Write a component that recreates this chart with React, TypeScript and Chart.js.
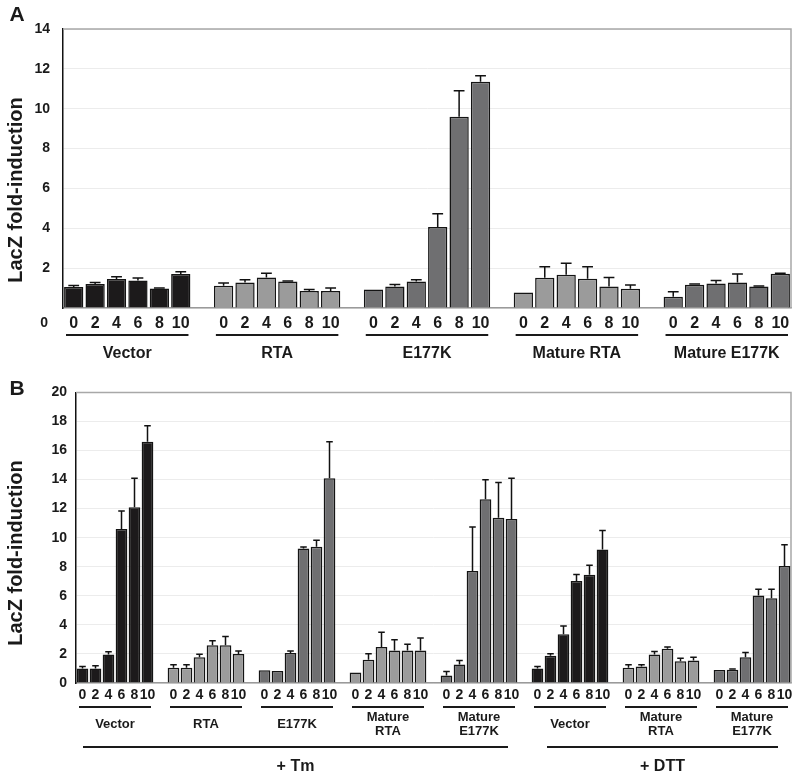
import React, { useEffect, useRef } from "react";
import { Chart, registerables } from "chart.js";
Chart.register(...registerables);

const FONT = '"Liberation Sans", Arial, Helvetica, sans-serif';
const doses = ["0", "2", "4", "6", "8", "10"];

// ---------- Panel A ----------
const groupsA = ["Vector", "RTA", "E177K", "Mature RTA", "Mature E177K"];
const vectorA = [1.05, 1.2, 1.45, 1.38, 0.98, 1.7];
const vectorAErr = [0.08, 0.08, 0.12, 0.12, 0.02, 0.12];
const rtaA = [1.12, 1.28, 1.53, 1.33, 0.85, 0.85];
const rtaAErr = [0.13, 0.14, 0.22, 0.03, 0.08, 0.15];
const e177kA = [0.93, 1.08, 1.33, 4.07, 9.6, 11.35];
const e177kAErr = [0, 0.1, 0.09, 0.66, 1.3, 0.3];
const matureRtaA = [0.78, 1.52, 1.67, 1.47, 1.08, 0.97];
const matureRtaAErr = [0, 0.55, 0.57, 0.6, 0.45, 0.18];
const matureE177kA = [0.57, 1.17, 1.23, 1.28, 1.08, 1.72];
const matureE177kAErr = [0.25, 0.03, 0.15, 0.42, 0.02, 0.03];
const yTicksA = { min: 0, max: 14, step: 2 };

// ---------- Panel B ----------
const groupsB = [["Vector"], ["RTA"], ["E177K"], ["Mature", "RTA"], ["Mature", "E177K"], ["Vector"], ["Mature", "RTA"], ["Mature", "E177K"]];
const treatmentsB = ["+ Tm", "+ DTT"];
const treatmentGroupRanges = [[0, 4], [5, 7]];
const tmVectorB = [1.0, 1.0, 1.97, 10.6, 12.1, 16.6];
const tmVectorBErr = [0.14, 0.19, 0.18, 1.24, 2.0, 1.1];
const tmRtaB = [1.05, 1.05, 1.78, 2.6, 2.6, 2.0];
const tmRtaBErr = [0.2, 0.2, 0.2, 0.3, 0.6, 0.2];
const tmE177kB = [0.87, 0.82, 2.06, 9.26, 9.37, 14.1];
const tmE177kBErr = [0, 0, 0.15, 0.1, 0.45, 2.5];
const tmMatureRtaB = [0.73, 1.6, 2.47, 2.24, 2.24, 2.24];
const tmMatureRtaBErr = [0, 0.41, 1.03, 0.73, 0.43, 0.85];
const tmMatureE177kB = [0.52, 1.28, 7.7, 12.64, 11.38, 11.29];
const tmMatureE177kBErr = [0.28, 0.27, 3.04, 1.35, 2.42, 2.81];
const dttVectorB = [1.0, 1.87, 3.36, 7.02, 7.45, 9.19];
const dttVectorBErr = [0.14, 0.14, 0.57, 0.45, 0.66, 1.3];
const dttMatureRtaB = [1.05, 1.14, 1.97, 2.35, 1.49, 1.55];
const dttMatureRtaBErr = [0.21, 0.12, 0.2, 0.12, 0.22, 0.23];
const dttMatureE177kB = [0.89, 0.91, 1.78, 6.03, 5.83, 8.05];
const dttMatureE177kBErr = [0, 0.05, 0.32, 0.42, 0.62, 1.46];
const yTicksB = { min: 0, max: 20, step: 2 };

const BLACK = "#1c1a1b";
const LIGHT = "#9b9b9b";
const DARK = "#6f6f71";
const colorsA = [BLACK, LIGHT, DARK, LIGHT, DARK];
const colorsB = [BLACK, LIGHT, DARK, LIGHT, DARK, BLACK, LIGHT, DARK];

function buildPanel(values: number[][], errs: number[][], colors: string[]) {
  const labels: string[] = [];
  const data: (number | null)[] = [];
  const err: number[] = [];
  const bg: string[] = [];
  values.forEach((g, gi) => {
    if (gi > 0) {
      labels.push("");
      data.push(null);
      err.push(0);
      bg.push("rgba(0,0,0,0)");
    }
    g.forEach((v, i) => {
      labels.push(doses[i]);
      data.push(v);
      err.push(errs[gi][i]);
      bg.push(colors[gi]);
    });
  });
  return { labels, data, err, bg };
}

type PanelCfg = {
  letter: string;
  groupNames: string[][];
  values: number[][];
  errs: number[][];
  colors: string[];
  yt: { min: number; max: number; step: number };
  height: number;
  padTop: number;
  xHeight: number;
  yWidth: number;
  tickSize: number;
  tickPad: number;
  yTickPad: number;
  barPct: number;
  groupFont: number;
  underlineY: number;
  groupNameY: number;
  groupLineH: number;
  zeroLow: boolean;
  treatments?: string[];
  treatmentRanges?: number[][];
  treatLineY?: number;
  treatLabelY?: number;
  letterY: number;
  titleY: number;
};

function makeChart(canvas: HTMLCanvasElement, cfg: PanelCfg) {
  const { labels, data, err, bg } = buildPanel(cfg.values, cfg.errs, cfg.colors);
  const font = (size: number) => `bold ${size}px ${FONT}`;

  const plugin = {
    id: "annot" + cfg.letter,
    beforeDatasetsDraw(chart: any) {
      const { ctx, chartArea } = chart;
      ctx.save();
      ctx.strokeStyle = "#a8a8a8";
      ctx.lineWidth = 1.5;
      ctx.beginPath();
      ctx.moveTo(chartArea.left, chartArea.top);
      ctx.lineTo(chartArea.right, chartArea.top);
      ctx.lineTo(chartArea.right, chartArea.bottom);
      ctx.stroke();
      ctx.restore();
    },
    afterDatasetsDraw(chart: any) {
      const { ctx } = chart;
      const meta = chart.getDatasetMeta(0);
      const ys = chart.scales.y;
      ctx.save();
      ctx.strokeStyle = "#111";
      ctx.lineWidth = 1.5;
      meta.data.forEach((el: any, i: number) => {
        const v = data[i];
        const e = err[i];
        if (v == null || !e) return;
        const x = el.x;
        const y0 = el.y;
        const y1 = ys.getPixelForValue(v + e);
        const cap = el.width * 0.28;
        ctx.beginPath();
        ctx.moveTo(x, y0);
        ctx.lineTo(x, y1);
        ctx.moveTo(x - cap, y1);
        ctx.lineTo(x + cap, y1);
        ctx.stroke();
      });
      ctx.restore();
    },
    afterDraw(chart: any) {
      const { ctx, chartArea } = chart;
      const xs = chart.scales.x;
      const ys = chart.scales.y;
      const slot = xs.getPixelForValue(1) - xs.getPixelForValue(0);
      ctx.save();
      ctx.fillStyle = "#1a1a1a";
      ctx.strokeStyle = "#1a1a1a";
      // panel letter
      ctx.font = font(21);
      ctx.textAlign = "center";
      ctx.textBaseline = "middle";
      ctx.fillText(cfg.letter, 17, cfg.letterY);
      // y title
      ctx.save();
      ctx.translate(16, cfg.titleY);
      ctx.rotate(-Math.PI / 2);
      ctx.font = font(20);
      ctx.fillText("LacZ fold-induction", 0, 0);
      ctx.restore();
      // low zero
      if (cfg.zeroLow) {
        ctx.font = font(14);
        ctx.textAlign = "right";
        ctx.fillText("0", ys.right - 15, chartArea.bottom + cfg.tickPad + cfg.tickSize * 0.5 + 1);
      }
      // groups
      ctx.lineWidth = 2;
      ctx.textAlign = "center";
      const groupEdges: number[][] = [];
      cfg.groupNames.forEach((names, gi) => {
        const a = xs.getPixelForValue(gi * 7) - slot / 2;
        const b = xs.getPixelForValue(gi * 7 + 5) + slot / 2;
        groupEdges.push([a, b]);
        ctx.beginPath();
        ctx.moveTo(a + 3, cfg.underlineY);
        ctx.lineTo(b - 3, cfg.underlineY);
        ctx.stroke();
        ctx.font = font(cfg.groupFont);
        const cx = (a + b) / 2;
        const n = names.length;
        names.forEach((t, li) => {
          const y = cfg.groupNameY + (li - (n - 1) / 2) * cfg.groupLineH;
          ctx.fillText(t, cx, y);
        });
      });
      if (cfg.treatments && cfg.treatmentRanges) {
        const insets = [[7, 10], [16, 13]];
        cfg.treatments.forEach((t, ti) => {
          const [g0, g1] = cfg.treatmentRanges![ti];
          const a = groupEdges[g0][0] + insets[ti][0];
          const b = groupEdges[g1][1] - insets[ti][1];
          ctx.beginPath();
          ctx.moveTo(a, cfg.treatLineY!);
          ctx.lineTo(b, cfg.treatLineY!);
          ctx.stroke();
          ctx.font = font(16);
          ctx.fillText(t, (a + b) / 2, cfg.treatLabelY!);
        });
      }
      ctx.restore();
    },
  };

  return new Chart(canvas, {
    type: "bar",
    data: {
      labels,
      datasets: [
        {
          data,
          backgroundColor: bg,
          borderColor: "#141414",
          borderWidth: 1.5,
          barPercentage: cfg.barPct,
          categoryPercentage: 1.0,
        },
      ],
    },
    options: {
      responsive: false,
      animation: false,
      devicePixelRatio: 1,
      layout: { padding: { left: 0, right: 9, top: cfg.padTop, bottom: 0 } },
      plugins: { legend: { display: false }, tooltip: { enabled: false } },
      scales: {
        x: {
          grid: { display: false, drawTicks: false },
          border: { color: "#9a9a9a", width: 1.5 },
          ticks: {
            autoSkip: false,
            maxRotation: 0,
            minRotation: 0,
            padding: cfg.tickPad,
            color: "#1a1a1a",
            font: { family: FONT, size: cfg.tickSize, weight: "bold" },
          },
          afterFit: (s: any) => {
            s.height = cfg.xHeight;
          },
        },
        y: {
          min: cfg.yt.min,
          max: cfg.yt.max,
          ticks: {
            stepSize: cfg.yt.step,
            padding: cfg.yTickPad,
            color: "#1a1a1a",
            font: { family: FONT, size: 14, weight: "bold" },
            callback: (v: any) => (cfg.zeroLow && v === 0 ? "" : String(v)),
          },
          grid: { color: "#ececec", drawTicks: false },
          border: { color: "#111", width: 1.5 },
          afterFit: (s: any) => {
            s.width = cfg.yWidth;
          },
        },
      },
    } as any,
    plugins: [plugin as any],
  });
}

const cfgA: PanelCfg = {
  letter: "A",
  groupNames: groupsA.map((g) => [g]),
  values: [vectorA, rtaA, e177kA, matureRtaA, matureE177kA],
  errs: [vectorAErr, rtaAErr, e177kAErr, matureRtaAErr, matureE177kAErr],
  colors: colorsA,
  yt: yTicksA,
  height: 375,
  padTop: 29,
  xHeight: 67,
  yWidth: 63,
  tickSize: 16,
  tickPad: 6,
  yTickPad: 13,
  barPct: 0.9,
  groupFont: 16,
  underlineY: 335,
  groupNameY: 354,
  groupLineH: 14,
  zeroLow: true,
  letterY: 15,
  titleY: 190,
};

const cfgB: PanelCfg = {
  letter: "B",
  groupNames: groupsB,
  values: [tmVectorB, tmRtaB, tmE177kB, tmMatureRtaB, tmMatureE177kB, dttVectorB, dttMatureRtaB, dttMatureE177kB],
  errs: [tmVectorBErr, tmRtaBErr, tmE177kBErr, tmMatureRtaBErr, tmMatureE177kBErr, dttVectorBErr, dttMatureRtaBErr, dttMatureE177kBErr],
  colors: colorsB,
  yt: yTicksB,
  height: 404,
  padTop: 16,
  xHeight: 96,
  yWidth: 76,
  tickSize: 14,
  tickPad: 4,
  yTickPad: 9,
  barPct: 0.9,
  groupFont: 13,
  underlineY: 332,
  groupNameY: 349,
  groupLineH: 14,
  zeroLow: false,
  treatments: treatmentsB,
  treatmentRanges: treatmentGroupRanges,
  treatLineY: 372,
  treatLabelY: 392,
  letterY: 14.5,
  titleY: 178,
};

export default function App() {
  const refA = useRef<HTMLCanvasElement | null>(null);
  const refB = useRef<HTMLCanvasElement | null>(null);
  useEffect(() => {
    const a = makeChart(refA.current!, cfgA);
    const b = makeChart(refB.current!, cfgB);
    return () => {
      a.destroy();
      b.destroy();
    };
  }, []);
  return (
    <div style={{ position: "absolute", left: 0, top: 0, width: 800, height: 779, background: "#fff" }}>
      <canvas ref={refA} width={800} height={375} style={{ position: "absolute", left: 0, top: 0, display: "block" }} />
      <canvas ref={refB} width={800} height={404} style={{ position: "absolute", left: 0, top: 375, display: "block" }} />
    </div>
  );
}
